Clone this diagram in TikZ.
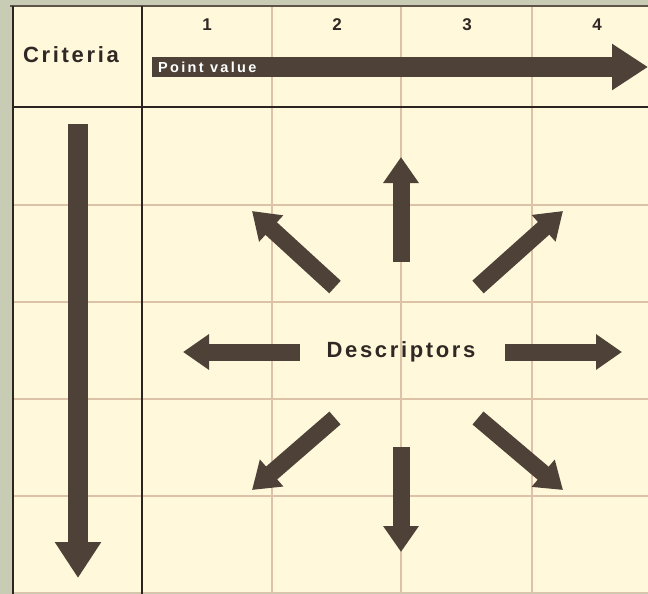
\documentclass[tikz,border=0pt]{standalone}
\usepackage{fontspec}
\setmainfont{Liberation Sans}
\newfontfamily\widefont[LetterSpace=12]{Liberation Sans}
\newfontfamily\pvfont[LetterSpace=16]{Liberation Sans}
\usetikzlibrary{arrows.meta}
\definecolor{bgGreen}{HTML}{C8CCB4}
\definecolor{cream}{HTML}{FFF8DA}
\definecolor{gridBrown}{HTML}{DCC2A6}
\definecolor{ruleDark}{HTML}{2B2420}
\definecolor{arrowBrown}{HTML}{4E4238}
\definecolor{textDark}{HTML}{2F2824}

\begin{document}
\begin{tikzpicture}[
    x=1pt, y=-1pt,
    gridline/.style={draw=gridBrown, line width=1.3pt},
    ruleline/.style={draw=ruleDark, line width=2.2pt},
    descarrow/.style={draw=arrowBrown, line width=17pt,
                      -{Triangle[length=26pt, width=34pt]}},
    bigarrow/.style={draw=arrowBrown, line width=20pt,
                     -{Triangle[length=36pt, width=44pt]}},
    headlbl/.style={font=\widefont\bfseries\fontsize{22}{24}\selectfont, text=textDark},
    numlbl/.style={font=\bfseries\fontsize{17}{19}\selectfont, text=textDark},
    pvlbl/.style={font=\pvfont\bfseries\fontsize{14.5}{16}\selectfont, text=white, inner sep=0pt}
  ]
    \useasboundingbox (0,0) rectangle (648,594);
    \fill[bgGreen] (0,0) rectangle (648,594);
    \clip (0,0) rectangle (648,594);
    \fill[cream] (12,6) rectangle (660,592);

    % grid
    \foreach \x in {272,401,532}
      \draw[gridline] (\x,6) -- (\x,592);
    \foreach \y in {205,302,399,496}
      \draw[gridline] (12,\y) -- (660,\y);
    \draw[gridBrown, line width=1pt] (12,592) -- (660,592);
    \draw[draw=ruleDark!70!gridBrown, line width=1.2pt] (10,6) -- (660,6);
    \draw[ruleline] (13,6) -- (13,594);
    \draw[ruleline] (142,6) -- (142,594);
    \draw[ruleline] (12,107) -- (660,107);

    % header
    \node[headlbl] (criteria) at (71,55) {Criteria};
    \foreach \n/\x in {1/207,2/337,3/467,4/597}
      \node[numlbl] (col\n) at (\x,25) {\n};
    \coordinate (pvStart) at (152,67);
    \coordinate (pvEnd) at (648,67);
    \draw[bigarrow] (pvStart) -- (pvEnd);
    \node[pvlbl, anchor=west] (pv) at (158,67) {Point value};
    \coordinate (critStart) at (78,124);
    \coordinate (critEnd) at (78,578);
    \draw[bigarrow] (critStart) -- (critEnd);

    % descriptors
    \node[headlbl] (desc) at (401,352) {Descriptors};
    \foreach \i/\sx/\sy/\tx/\ty in {1/401/262/401/157, 2/478/287/563/211,
        3/505/352/622/352, 4/478/418/563/490, 5/401/447/401/552,
        6/335/418/252/490, 7/300/352/183/352, 8/335/287/252/211} {
      \coordinate (s\i) at (\sx,\sy);
      \coordinate (t\i) at (\tx,\ty);
      \draw[descarrow] (s\i) -- (t\i);
    }
\end{tikzpicture}
\end{document}
